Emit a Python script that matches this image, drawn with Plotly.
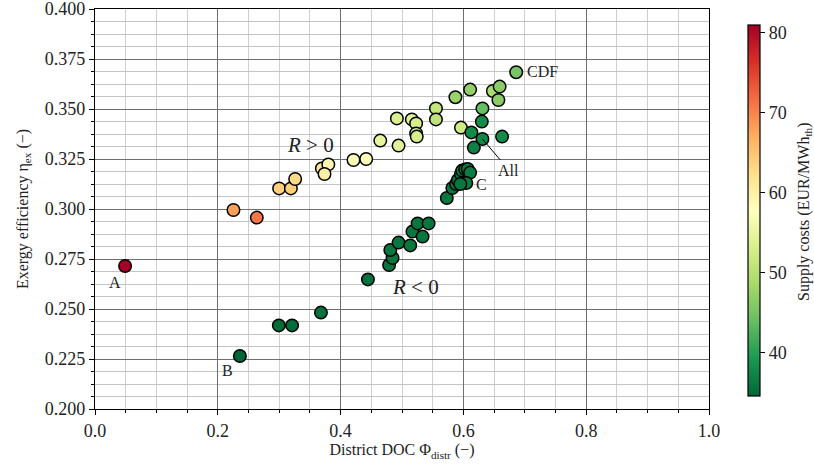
import plotly.graph_objects as go

# District DOC (x), exergy efficiency (y), supply costs (colour)
doc = [0.049, 0.2255, 0.2635, 0.2999, 0.319, 0.326, 0.3695, 0.380, 0.3738, 0.421,
       0.4417, 0.4646, 0.4917, 0.4944, 0.516, 0.523, 0.523, 0.524, 0.5553, 0.5553,
       0.596, 0.587, 0.611, 0.648, 0.659, 0.657, 0.686, 0.631, 0.630, 0.613,
       0.631, 0.663, 0.617,
       0.236, 0.2994, 0.321, 0.368, 0.4445, 0.479, 0.4846, 0.481, 0.4944, 0.5134,
       0.517, 0.5254, 0.5433, 0.5335,
       0.573, 0.582, 0.588, 0.591, 0.596, 0.598, 0.603, 0.607, 0.611, 0.6047, 0.595]
eff = [0.2715, 0.2995, 0.2957, 0.3103, 0.3103, 0.315, 0.3203, 0.3223, 0.3175, 0.3245,
       0.325, 0.3342, 0.3453, 0.3317, 0.3448, 0.3428, 0.3378, 0.3362, 0.3503, 0.3448,
       0.3407, 0.3559, 0.3597, 0.359, 0.3612, 0.3545, 0.3684, 0.3503, 0.3437, 0.3383,
       0.335, 0.3362, 0.3307,
       0.2265, 0.2418, 0.2418, 0.2482, 0.2648, 0.272, 0.2755, 0.2795, 0.2832, 0.2818,
       0.2887, 0.2928, 0.2928, 0.2862,
       0.3055, 0.3105, 0.3125, 0.3145, 0.3175, 0.3192, 0.3198, 0.3200, 0.3182, 0.313, 0.3125]
cost = [80.9, 68, 71, 64, 64, 63, 61.5, 59, 60, 57,
        57.5, 55, 53.5, 54, 54, 53, 53, 53, 51, 50.5,
        52, 47.5, 47, 49, 46.5, 46.5, 45, 44, 38, 38,
        37.5, 38, 37,
        34.6, 35, 35, 35.5, 35.5, 36, 36, 36, 36, 36,
        36, 36, 36, 36,
        36, 36, 36, 36, 36.5, 36.5, 36.5, 36.5, 36.5, 36.5, 36]

x_ticks = [0.0, 0.2, 0.4, 0.6, 0.8, 1.0]
y_ticks = [0.200, 0.225, 0.250, 0.275, 0.300, 0.325, 0.350, 0.375, 0.400]
cbar_ticks = [40, 50, 60, 70, 80]
FONT = "Liberation Serif"

# layout geometry (pixels)
W, H = 814, 468
ML, MR = 95, 22
MT, MB = 9, 59
PW = W - ML - MR
x_dom_end = 614 / PW
cb_x = (748 - ML) / PW

fig = go.Figure()
fig.add_trace(go.Scatter(
    x=doc, y=eff, mode="markers",
    marker=dict(size=12.5, color=cost, colorscale="RdYlGn_r", cmin=34.6, cmax=80.9,
                line=dict(color="black", width=1.5),
                colorbar=dict(thickness=12, len=0.9275, lenmode="fraction", xpad=0, ypad=0,
                              x=cb_x, xanchor="left", y=0.496, yanchor="middle",
                              outlinecolor="black", outlinewidth=1.2,
                              tickvals=cbar_ticks, ticks="outside", ticklen=5,
                              tickcolor="black", tickfont=dict(family=FONT, size=18, color="#222"))),
    showlegend=False, hoverinfo="skip"))

# colourbar title as rotated annotation (avoids margin push)
fig.add_annotation(xref="paper", yref="paper", x=(804 - ML) / PW, y=0.4925,
                   xanchor="center", yanchor="middle",
                   text="Supply costs (EUR/MWh<sub>th</sub>)", textangle=-90, showarrow=False,
                   font=dict(family=FONT, size=16, color="#222"))

ann_font = dict(family=FONT, size=16, color="#222")
fig.add_annotation(x=0.0326, y=0.2635, text="A", showarrow=False, font=ann_font)
fig.add_annotation(x=0.215, y=0.2195, text="B", showarrow=False, font=ann_font)
fig.add_annotation(x=0.629, y=0.3125, text="C", showarrow=False, font=ann_font)
fig.add_annotation(x=0.7286, y=0.3687, text="CDF", showarrow=False, font=ann_font)
fig.add_annotation(x=0.631, y=0.335, ax=0.674, ay=0.3195, axref="x", ayref="y",
                   text="All", showarrow=True, arrowhead=0, arrowwidth=1, arrowcolor="black",
                   standoff=0, font=ann_font)
fig.add_annotation(x=0.3504, y=0.3318, text="<i>R</i> > 0", showarrow=False,
                   font=dict(family=FONT, size=21, color="#222"))
fig.add_annotation(x=0.5216, y=0.2612, text="<i>R</i> < 0", showarrow=False,
                   font=dict(family=FONT, size=21, color="#222"))

fig.update_xaxes(range=[0, 1.0], domain=[0, x_dom_end], tickvals=x_ticks, tickformat=".1f",
                 automargin=False,
                 showgrid=True, gridcolor="#6e6e6e", gridwidth=1.4,
                 minor=dict(dtick=0.05, tick0=0, showgrid=True, gridcolor="#cfcfcf", gridwidth=1.2,
                            ticks="outside", ticklen=3, tickcolor="black"),
                 ticks="outside", ticklen=5, tickcolor="black", ticklabeloverflow="allow",
                 showline=True, linecolor="black", linewidth=1.4, mirror=True, zeroline=False,
                 tickfont=dict(family=FONT, size=18, color="#222"),
                 title=dict(text="District DOC Φ<sub>distr</sub> (−)", standoff=4,
                            font=dict(family=FONT, size=16, color="#222")))
fig.update_yaxes(range=[0.2, 0.4], tickvals=y_ticks, tickformat=".3f",
                 automargin=False,
                 showgrid=True, gridcolor="#6e6e6e", gridwidth=1.4,
                 minor=dict(dtick=0.00625, tick0=0.2, showgrid=True, gridcolor="#c4c4c4", gridwidth=1.2,
                            ticks="outside", ticklen=3, tickcolor="black"),
                 ticks="outside", ticklen=5, tickcolor="black", ticklabeloverflow="allow",
                 showline=True, linecolor="black", linewidth=1.4, mirror=True, zeroline=False,
                 tickfont=dict(family=FONT, size=18, color="#222"),
                 title=dict(text="Exergy efficiency η<sub>ex</sub> (−)", standoff=12,
                            font=dict(family=FONT, size=16, color="#222")))

fig.update_layout(width=W, height=H, margin=dict(l=ML, r=MR, t=MT, b=MB, autoexpand=False),
                  paper_bgcolor="white", plot_bgcolor="white")
fig.write_html("out.html")
